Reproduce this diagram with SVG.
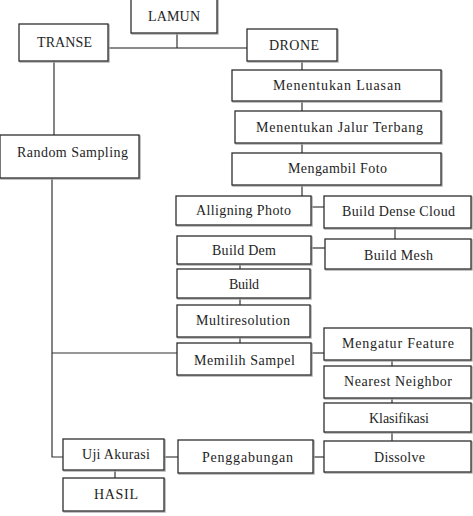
<svg xmlns="http://www.w3.org/2000/svg" width="473" height="516" viewBox="0 0 473 516">
<style>
.bx{fill:#fff;stroke:#2e2e2e;stroke-width:1.3}
.sh{fill:none;stroke:#a8a8a8;stroke-width:1.4}
.t{font-family:'Liberation Serif','Times New Roman',serif;font-size:14px;fill:#1e1e1e}
.c{stroke:#333;stroke-width:1.2;fill:none}
.g{stroke:#8a8a8a;stroke-width:2;fill:none}
</style>
<rect width="473" height="516" fill="#fff"/>
<g id="connectors">
<path class="g" d="M108 48H247"/>
<path class="c" d="M177 33V48"/>
<path class="c" d="M302 61V70M302 101V111M302 143V153M302 185V196"/>
<path class="c" d="M54 61V135"/>
<path class="c" d="M52 178V457H63"/>
<path class="g" d="M311 207H324"/>
<path class="c" d="M395 228V239"/>
<path class="c" d="M311 248H325"/>
<path class="c" d="M240 264V269M240 298V305M240 337V343"/>
<path class="c" d="M52 353H177"/>
<path class="c" d="M311 353H324"/>
<path class="c" d="M392 360V366M392 398V403M392 432V441"/>
<path class="c" d="M313 457H324"/>
<path class="g" d="M164 457H178"/>
<path class="c" d="M115 470V478"/>
</g>
<g id="lamun"><rect class="sh" x="132" y="-1" width="86" height="35"/><rect class="bx" x="131" y="-2" width="86" height="35"/><text class="t" x="148" y="21" textLength="52" lengthAdjust="spacing">LAMUN</text></g>
<g id="transe"><rect class="sh" x="20" y="25" width="89" height="37"/><rect class="bx" x="19" y="24" width="89" height="37"/><text class="t" x="37" y="47" textLength="55" lengthAdjust="spacing">TRANSE</text></g>
<g id="drone"><rect class="sh" x="248" y="30" width="90" height="32"/><rect class="bx" x="247" y="29" width="90" height="32"/><text class="t" x="269" y="50" textLength="50" lengthAdjust="spacing">DRONE</text></g>
<g id="luasan"><rect class="sh" x="233" y="71" width="209" height="31"/><rect class="bx" x="232" y="70" width="209" height="31"/><text class="t" x="273" y="90" textLength="128" lengthAdjust="spacing">Menentukan Luasan</text></g>
<g id="jalur"><rect class="sh" x="236" y="112" width="206" height="32"/><rect class="bx" x="235" y="111" width="206" height="32"/><text class="t" x="256" y="132" textLength="167" lengthAdjust="spacing">Menentukan Jalur Terbang</text></g>
<g id="random"><rect class="sh" x="1" y="136" width="139" height="43"/><rect class="bx" x="0" y="135" width="139" height="43"/><text class="t" x="17" y="157" textLength="111" lengthAdjust="spacing">Random Sampling</text></g>
<g id="foto"><rect class="sh" x="233" y="154" width="209" height="32"/><rect class="bx" x="232" y="153" width="209" height="32"/><text class="t" x="288" y="173" textLength="99" lengthAdjust="spacing">Mengambil Foto</text></g>
<g id="alligning"><rect class="sh" x="177" y="197" width="135" height="29"/><rect class="bx" x="176" y="196" width="135" height="29"/><text class="t" x="196" y="215" textLength="95" lengthAdjust="spacing">Alligning Photo</text></g>
<g id="dense"><rect class="sh" x="325" y="197" width="147" height="32"/><rect class="bx" x="324" y="196" width="147" height="32"/><text class="t" x="342" y="216" textLength="113" lengthAdjust="spacing">Build Dense Cloud</text></g>
<g id="dem"><rect class="sh" x="178" y="237" width="134" height="28"/><rect class="bx" x="177" y="236" width="134" height="28"/><text class="t" x="212" y="255" textLength="64" lengthAdjust="spacing">Build Dem</text></g>
<g id="mesh"><rect class="sh" x="326" y="240" width="146" height="30"/><rect class="bx" x="325" y="239" width="146" height="30"/><text class="t" x="364" y="260" textLength="69" lengthAdjust="spacing">Build Mesh</text></g>
<g id="build"><rect class="sh" x="178" y="270" width="133" height="29"/><rect class="bx" x="177" y="269" width="133" height="29"/><text class="t" x="229" y="289" textLength="30" lengthAdjust="spacing">Build</text></g>
<g id="multi"><rect class="sh" x="178" y="306" width="133" height="32"/><rect class="bx" x="177" y="305" width="133" height="32"/><text class="t" x="196" y="325" textLength="94" lengthAdjust="spacing">Multiresolution</text></g>
<g id="feature"><rect class="sh" x="325" y="329" width="147" height="32"/><rect class="bx" x="324" y="328" width="147" height="32"/><text class="t" x="342" y="348" textLength="112" lengthAdjust="spacing">Mengatur Feature</text></g>
<g id="sampel"><rect class="sh" x="178" y="344" width="134" height="32"/><rect class="bx" x="177" y="343" width="134" height="32"/><text class="t" x="194" y="365" textLength="101" lengthAdjust="spacing">Memilih Sampel</text></g>
<g id="nearest"><rect class="sh" x="325" y="367" width="147" height="32"/><rect class="bx" x="324" y="366" width="147" height="32"/><text class="t" x="344" y="386" textLength="108" lengthAdjust="spacing">Nearest Neighbor</text></g>
<g id="klasifikasi"><rect class="sh" x="325" y="404" width="147" height="29"/><rect class="bx" x="324" y="403" width="147" height="29"/><text class="t" x="369" y="423" textLength="60" lengthAdjust="spacing">Klasifikasi</text></g>
<g id="dissolve"><rect class="sh" x="325" y="442" width="147" height="31"/><rect class="bx" x="324" y="441" width="147" height="31"/><text class="t" x="374" y="462" textLength="51" lengthAdjust="spacing">Dissolve</text></g>
<g id="penggabungan"><rect class="sh" x="179" y="441" width="135" height="33"/><rect class="bx" x="178" y="440" width="135" height="33"/><text class="t" x="202" y="462" textLength="91" lengthAdjust="spacing">Penggabungan</text></g>
<g id="uji"><rect class="sh" x="64" y="440" width="101" height="31"/><rect class="bx" x="63" y="439" width="101" height="31"/><text class="t" x="82" y="459" textLength="68" lengthAdjust="spacing">Uji Akurasi</text></g>
<g id="hasil"><rect class="sh" x="64" y="479" width="101" height="33"/><rect class="bx" x="63" y="478" width="101" height="33"/><text class="t" x="94" y="499" textLength="44" lengthAdjust="spacing">HASIL</text></g>
</svg>
